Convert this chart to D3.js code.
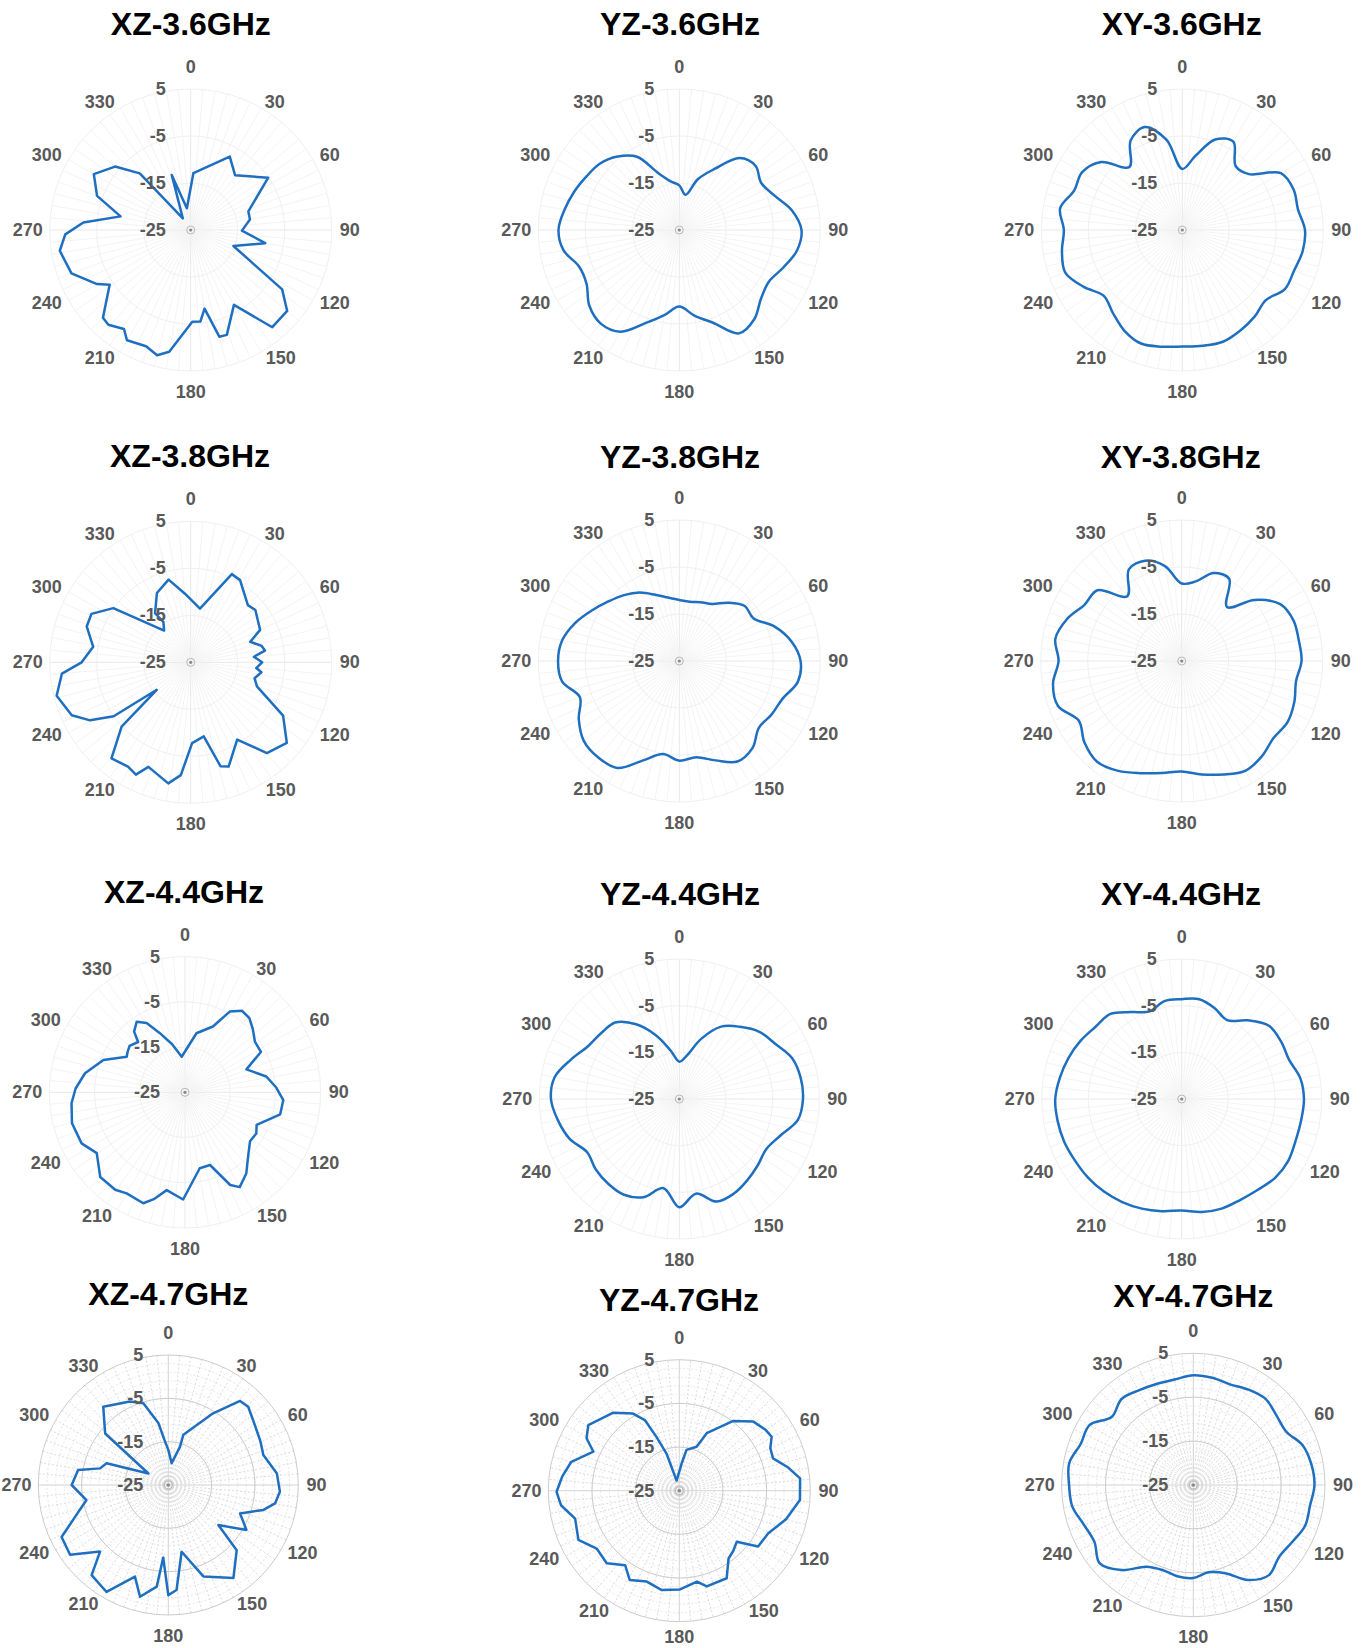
<!DOCTYPE html>
<html><head><meta charset="utf-8">
<script src="https://cdn.jsdelivr.net/npm/d3@7"></script>
<style>body{margin:0;background:#fff}svg{display:block}</style>
</head><body>
<svg id="chart" width="1367" height="1648"></svg>
<script>
// ---------------- data ----------------
const titles = ["XZ-3.6GHz","YZ-3.6GHz","XY-3.6GHz","XZ-3.8GHz","YZ-3.8GHz","XY-3.8GHz",
                "XZ-4.4GHz","YZ-4.4GHz","XY-4.4GHz","XZ-4.7GHz","YZ-4.7GHz","XY-4.7GHz"];
const angleTicks = [0,30,60,90,120,150,180,210,240,270,300,330];
const gainTicks = [-25,-15,-5,5];
const gainMin = -25, gainMax = 5;
const step10 = [0,10,20,30,40,50,60,70,80,90,100,110,120,130,140,150,160,170,
                180,190,200,210,220,230,240,250,260,270,280,290,300,310,320,330,340,350];

// measured patterns with irregular vertices (angle deg, gain dB)
const xz36Angles = [2.7,28,39,56,72,80,90.7,100,110.5,123,130,140,150,161,165,170,174,179,190,195,201,210,214,221,225,236,240,250,261,268,274,281,290,300,310,318,326,341,350];
const xz36Gain   = [-12.9,-7.3,-10.0,-5.1,-12.1,-12.2,-14.1,-8.9,-15.3,-1.8,1.8,2.0,-6.6,-1.4,-1.5,-8.0,-5.4,-5.5,1.3,2.6,1.5,2.1,0.4,1.7,1.4,-4.2,-2.0,2.0,3.2,1.7,-2.1,-9.8,-3.8,-1.2,-4.0,-8.8,-22,-12.6,-20.3];

const xz38Angles = [9.8,25,31,36,45,51,65,71,77,81,85,90,95,98,104,110,120,130,140,149,160,164,170,179,185,190.5,202,206,211,219.5,227,231,235,240,246,256,265,270,279,289,296,305,320,326,324,334,345,355];
const xz38Gain   = [-13.4,-4.3,-4.6,-6.0,-7.8,-7.3,-8.7,-11.6,-9.5,-9.0,-11.5,-9.8,-11.0,-9.8,-11.0,-10.0,-2.3,1.7,0.2,-5.8,-1.4,-2.0,-9.0,-7.8,-0.9,1.2,-1.0,1.6,0.9,1.5,-4.9,-15.7,-5.0,-0.3,2.7,4.4,2.5,-1.8,-4.0,-1.6,-1.5,-4.9,-16.2,-14.6,-12.1,-8.6,-6.8,-10.3];

const xz44Angles = [11,23,29,35,41,47,54,62,69.5,79,87,94.5,103,114.5,120,127,134,143,150,154,161,169,181,190.6,196,200.6,210,215.6,225,235.4,243.7,254.7,264.5,272,280.8,291.6,301.4,305,310,317,320,325.6,331,337,345,354.7];
const xz44Gain   = [-11.7,-9.2,-4.6,-3.0,-3.3,-4.5,-5.9,-6.0,-10.5,-6.7,-4.8,-3.2,-3.4,-7.6,-6.8,-7.0,-5.5,-2.5,-0.8,-2.2,-8.0,-7.9,-1.3,-3.0,-0.5,1.2,0.8,1.5,1.5,-1.3,0.5,0.9,0.2,-0.8,-2.5,-5.6,-9.9,-9.5,-9.0,-9.8,-7.5,-6.1,-7.5,-10.8,-14.0,-17.1];

const xz47Angles = [0,8.7,17,16.7,32,40.5,45.6,55.3,65,72.5,84,93.4,99.8,104.7,111.6,119.9,128.7,133.6,145,159,168.7,175.5,180,184,186.5,194.2,200,210,220.4,225.7,234.6,244,251,259.6,270,279.5,283.7,289.4,300,309.2,320.3,335.3,343,351,355];
const xz47Gain   = [-16.9,-19.9,-15.8,-12.9,-5.5,0.5,0.8,-0.7,-1.5,-2.0,0.2,0.8,0,-2.3,-7.2,-4.2,-10.2,-3.2,1.2,-2.4,-9.3,-0.7,0.4,-8.2,-1.4,1.6,-2.5,3.5,2.3,-3.0,2.8,2.4,-2.2,-5.8,-2.7,-3.9,-8.8,-9.9,-19.7,-6.2,-1.5,-3.8,-5.3,-10.6,-14.5];

const yz47Angles = [345,5,10,21.5,25.5,37.7,47,55,59.7,65,71,78,84.2,94.4,105,115.6,125.3,131.7,138,144,151.6,164,169,179.6,190,199.7,209,216,225,235,244,255,263,269.5,277,285,294.4,299.5,305.8,319.8,329,334,337,341];
const yz47Gain   = [-22.6,-18.7,-15.5,-14.2,-10.4,-4.8,-1.8,-0.8,-0.5,-2.0,-2.3,0.5,2.8,2.7,0.3,-2.4,-2.9,-7.4,-6.5,-5.8,-2.2,-2.2,-3.8,-2.4,-1.9,-2.9,-1.6,-3.9,-1.5,-1.9,0.7,-0.3,2.3,3.1,2.0,0.6,-3.4,-0.6,0.7,-1.6,-4.4,-7.0,-11.6,-16.0];

// smooth patterns sampled every 10 degrees (gain dB)
const yz36Gain = [-15.5,-17.4,-13.5,-10,-5,-3.8,-4.9,-3.5,-0.7,1.0,0.4,-1.5,-3.0,-2.3,-0.2,0.4,-4.0,-6.5,-8.7,-6.6,-3.9,0,1.0,0,-2.2,-2.3,0,0.7,-0.2,-1.2,-2.2,-3.0,-4.6,-7.0,-12.2,-14.5];
const xy36Gain = [-12,-9,-4.5,-3.3,-7.3,-6.5,-0.8,0.2,0,1.1,1.0,0.3,0.2,-1.8,-1.0,-0.3,0.3,0,-0.2,0.2,0.7,-0.3,-2,-3.2,-0.8,1.5,1.0,0.2,1.4,-0.5,-0.4,-2.5,-7.5,-3.0,-1.7,-5.5];
const yz38Gain = [-12.0,-12.2,-11.7,-11.0,-8.8,-6.8,-6.8,-3.5,-0.8,0.8,0.6,-1.6,-2.3,-2.9,-0.8,-0.3,-2.5,-4.2,-3.8,-4.9,-2.5,1.3,1.8,1.5,-0.3,-2.5,0.3,0.8,0.3,-1.4,-3.5,-5.3,-6.7,-8.2,-10,-11.3];
const xy38Gain = [-8.5,-7.8,-5.1,-4.8,-10,-4.8,-0.8,0.3,0.3,0.5,-0.3,0.5,1.0,0.5,1.5,2.0,0.7,-0.5,-1.5,-0.8,0.4,2.0,3.0,2.0,0.3,3.0,2.8,1.2,2.3,1.0,-1.1,-1.6,-7.0,-2.5,-2.3,-4.5];
const yz44Gain = [-17,-15.5,-11.3,-7.1,-4.8,-2.6,-1.3,0.7,1.4,1.5,0.8,-2.0,-3.5,-3.0,-2.3,-1.6,-1.6,-4.4,-1.8,-5.6,-2.6,-1.3,-1.3,-1.6,-2.2,0,1.4,2.5,2.1,-0.3,-2.4,-3.1,-3.6,-6.5,-10.5,-14.5];
const xy44Gain = [-3.6,-3.3,-4.3,-5.5,-3.0,-0.6,-0.4,-0.5,0.8,1.2,1.0,1.0,1.4,1.2,0.4,0,0,-0.4,-1.1,-0.6,0,0.5,0.9,1.2,1.4,1.8,2.0,2.1,1.5,0.8,0,-0.9,-1.2,-3.5,-5.0,-3.7];
const xy47Gain = [0,-0.2,-0.6,0.1,0.6,-0.3,-0.6,1.5,2.3,2.6,2.0,2.1,1.0,0.5,1.8,0,-3.6,-4.8,-3.8,-3.9,-4.4,-3.5,0.3,2.8,1.0,1.5,3.0,3.3,3.7,2.3,2.3,-0.8,0.5,-0.1,-0.5,-0.6];

const zip = (a, g) => a.map((v, i) => [v, g[i]]);
const series = [
  {pts: zip(xz36Angles, xz36Gain), smooth: false},
  {pts: zip(step10, yz36Gain), smooth: true},
  {pts: zip(step10, xy36Gain), smooth: true},
  {pts: zip(xz38Angles, xz38Gain), smooth: false},
  {pts: zip(step10, yz38Gain), smooth: true},
  {pts: zip(step10, xy38Gain), smooth: true},
  {pts: zip(xz44Angles, xz44Gain), smooth: false},
  {pts: zip(step10, yz44Gain), smooth: true},
  {pts: zip(step10, xy44Gain), smooth: true},
  {pts: zip(xz47Angles, xz47Gain), smooth: false},
  {pts: zip(yz47Angles, yz47Gain), smooth: false},
  {pts: zip(step10, xy47Gain), smooth: true}
];

// ---------------- layout ----------------
const layout = [
  {cx:190.7, cy:230,   R:141,   tx:190.8, ty:35,    dense:false},
  {cx:679.3, cy:230,   R:141,   tx:680,   ty:35,    dense:false},
  {cx:1182.3,cy:230,   R:141,   tx:1181.7,ty:35,    dense:false},
  {cx:190.7, cy:662.3, R:141,   tx:190,   ty:467,   dense:false},
  {cx:679.3, cy:661,   R:141,   tx:680,   ty:468,   dense:false},
  {cx:1181.7,cy:661,   R:141,   tx:1180.7,ty:468,   dense:false},
  {cx:185,   cy:1092.3,R:135.7, tx:184,   ty:903,   dense:false},
  {cx:679.3, cy:1099,  R:140,   tx:680,   ty:905,   dense:false},
  {cx:1181.7,cy:1099,  R:140,   tx:1181,  ty:905,   dense:false},
  {cx:168.3, cy:1485,  R:130,   tx:168.3, ty:1305,  dense:true},
  {cx:679.3, cy:1490.7,R:131,   tx:679,   ty:1311,  dense:true},
  {cx:1193.3,cy:1485,  R:131.7, tx:1193.3,ty:1306.5,dense:true}
];
// angle-label placement (relative to a 141 px radius), as Excel lays them out
const angleLabelOffset = {0:[0,-163],30:[84,-128],60:[139,-75],90:[159,0],120:[144,73],150:[90,128],
  180:[0,162],210:[-91,128],240:[-144,73],270:[-163,0],300:[-144,-75],330:[-91,-128]};

const svg = d3.select("#chart");
const aScale = d3.scaleLinear().domain([0, 360]).range([0, 2 * Math.PI]);
const spokes = d3.range(0, 360, 5);
const labelFont = "'Liberation Sans', Arial, sans-serif";

layout.forEach((L, i) => {
  const rScale = d3.scaleLinear().domain([gainMin, gainMax]).range([0, L.R]).clamp(true);
  const g = svg.append("g").attr("transform", `translate(${L.cx},${L.cy})`);
  const grid = g.append("g");

  // spokes
  grid.selectAll("line.spoke").data(spokes).join("line")
    .attr("x1", 0).attr("y1", 0)
    .attr("x2", d => d3.pointRadial(aScale(d), L.R)[0])
    .attr("y2", d => d3.pointRadial(aScale(d), L.R)[1])
    .attr("stroke", d => L.dense ? (d % 90 === 0 ? "#c8c8c8" : "#d2d2d2") : (d % 90 === 0 ? "#e8e8e8" : "#f4f4f4"))
    .attr("stroke-width", L.dense ? 0.8 : 1)
    .attr("stroke-dasharray", d => L.dense && d % 90 !== 0 ? "2,2" : null);

  // rings
  if (L.dense) {
    const minor = d3.range(gainMin + 2, gainMax, 2);
    grid.selectAll("circle.minor").data(minor).join("circle")
      .attr("r", d => rScale(d)).attr("fill", "none")
      .attr("stroke", "#dcdcdc").attr("stroke-width", 0.7).attr("stroke-dasharray", "2,2");
  }
  grid.selectAll("circle.major").data(gainTicks.filter(t => t > gainMin)).join("circle")
    .attr("r", d => rScale(d)).attr("fill", "none")
    .attr("stroke", L.dense ? "#cccccc" : "#f0f0f0").attr("stroke-width", 1);

  // center mark
  g.append("circle").attr("r", 4).attr("fill", "none").attr("stroke", "#b8b8b8").attr("stroke-width", 1);
  g.append("circle").attr("r", 1.6).attr("fill", "#888");

  // pattern
  const line = d3.lineRadial()
    .angle(d => aScale(d[0]))
    .radius(d => rScale(d[1]))
    .curve(series[i].smooth ? d3.curveCatmullRomClosed.alpha(0.5) : d3.curveLinearClosed);
  g.append("path").datum(series[i].pts)
    .attr("d", line).attr("fill", "none")
    .attr("stroke", "#1f6fc0").attr("stroke-width", 2.5).attr("stroke-linejoin", "round");

  // angle labels
  const k = (L.R + 20) / 161;
  g.selectAll("text.ang").data(angleTicks).join("text")
    .attr("x", d => angleLabelOffset[d][0] * k)
    .attr("y", d => Math.min(angleLabelOffset[d][1] * k, 1637 - L.cy))
    .attr("text-anchor", "middle").attr("dominant-baseline", "central")
    .attr("font-family", labelFont).attr("font-weight", "bold").attr("font-size", 18)
    .attr("fill", "#595959").text(d => d);

  // gain labels
  g.selectAll("text.gain").data(gainTicks).join("text")
    .attr("x", -25).attr("y", d => -rScale(d))
    .attr("text-anchor", "end").attr("dominant-baseline", "central")
    .attr("font-family", labelFont).attr("font-weight", "bold").attr("font-size", 18)
    .attr("fill", "#595959").text(d => d);

  // title
  svg.append("text").attr("x", L.tx).attr("y", L.ty)
    .attr("text-anchor", "middle")
    .attr("font-family", labelFont).attr("font-weight", "bold").attr("font-size", 32)
    .attr("fill", "#000").text(titles[i]);
});
</script>
</body></html>
